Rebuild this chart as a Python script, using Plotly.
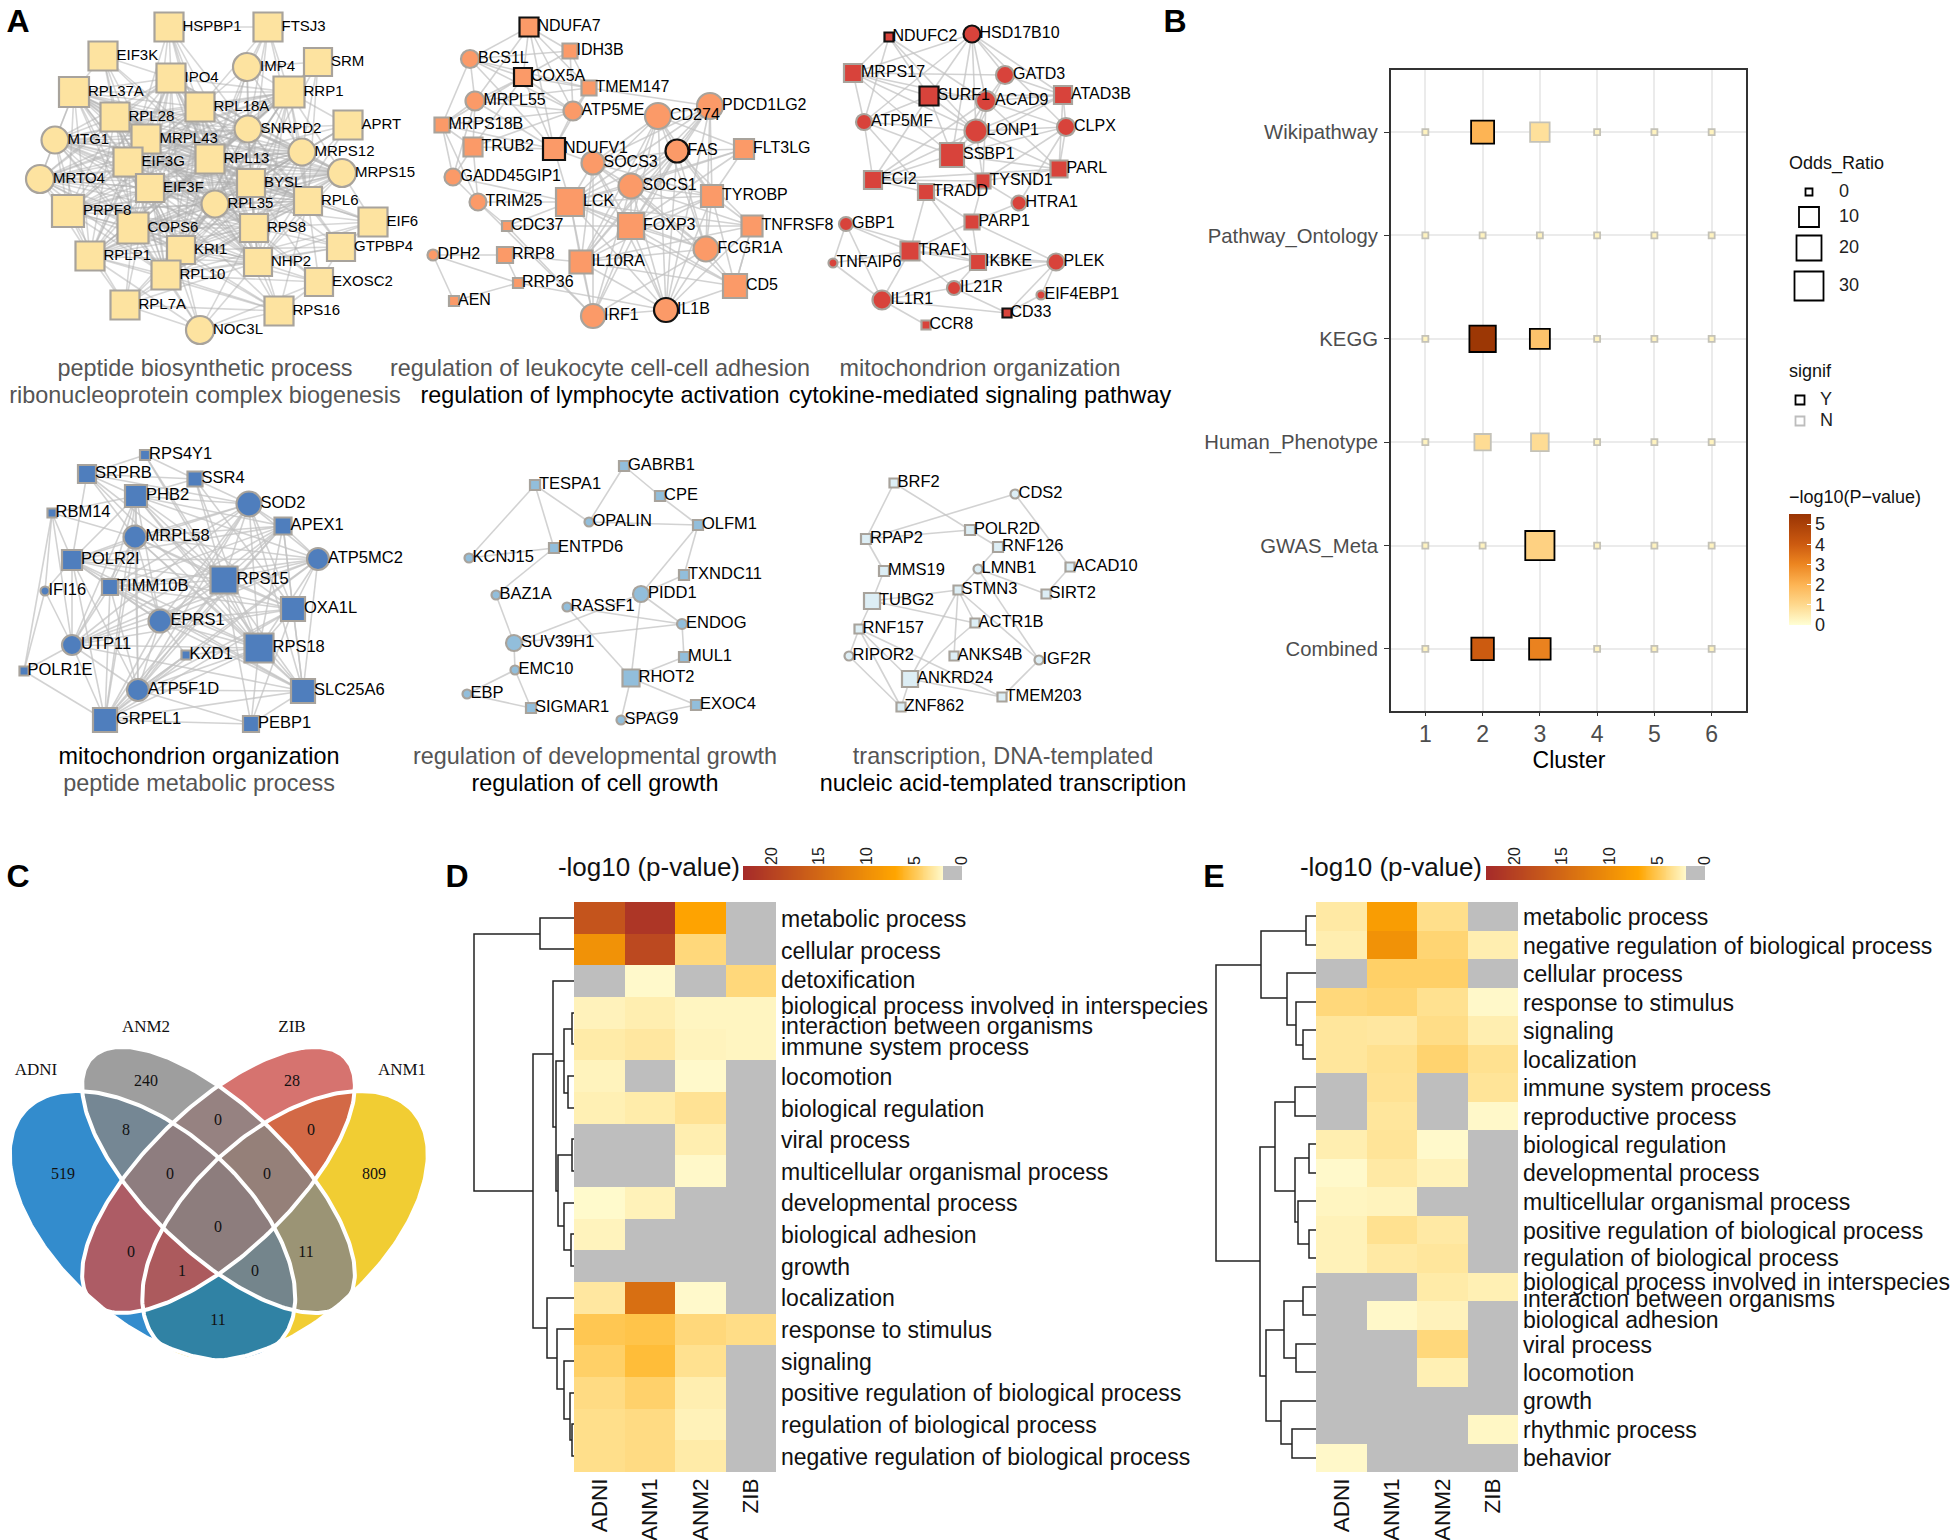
from itertools import combinations
import numpy as np
import plotly.graph_objects as go

W, H = 1951, 1540
SANS = 'Liberation Sans'
SERIF = 'Liberation Serif'

# ---- panel A networks (node layout, in picture pixels)
N1_NAMES = ['HSPBP1', 'FTSJ3', 'EIF3K', 'IMP4', 'SRM', 'IPO4', 'RPL37A', 'RRP1', 'RPL18A', 'RPL28', 'APRT', 'SNRPD2',
            'MTG1', 'MRPL43', 'MRPS12', 'EIF3G', 'RPL13', 'MRPS15', 'MRTO4', 'BYSL', 'EIF3F', 'RPL35', 'RPL6', 'PRPF8',
            'EIF6', 'COPS6', 'RPS8', 'GTPBP4', 'KRI1', 'RPLP1', 'NHP2', 'RPL10', 'EXOSC2', 'RPL7A', 'RPS16', 'NOC3L']
N1_X = [169, 268, 103, 247, 318, 171, 74, 289, 200, 115, 348, 248, 55, 146, 302, 128, 210, 342, 40, 251, 150, 215, 308,
        68, 373, 133, 254, 341, 181, 90, 258, 166, 319, 125, 279, 200]
N1_Y = [27, 27, 56, 67, 62, 78, 92, 92, 107, 117, 125, 129, 140, 139, 152, 162, 159, 173, 179, 183, 188, 204, 201, 211,
        222, 228, 228, 247, 250, 256, 262, 275, 282, 305, 311, 330]
N1_SIZE = [31, 31, 31, 30, 30, 31, 32, 33, 31, 31, 31, 29, 29, 31, 29, 31, 31, 30, 30, 30, 30, 29, 30, 34, 31, 33, 30,
           30, 30, 31, 30, 31, 30, 31, 31, 30]
N1_CIRCLES = ['IMP4', 'SNRPD2', 'MTG1', 'MRPS12', 'MRPS15', 'MRTO4', 'RPL35', 'NOC3L']
N1_BLACK = []
N1_CORE = ['RPL28', 'MRPL43', 'EIF3G', 'RPL13', 'BYSL', 'EIF3F', 'RPL35', 'RPL18A', 'SNRPD2', 'COPS6', 'RPS8', 'KRI1',
           'NHP2', 'RPL10', 'RPL6', 'MTG1', 'MRTO4', 'PRPF8', 'MRPS12', 'IPO4', 'RRP1', 'RPL37A', 'RPLP1', 'MRPS15']
N1_ADJ = ['HSPBP1: EIF3G RPL13 RPL18A IPO4 BYSL RPL35 SNRPD2 EIF3F',
          'FTSJ3: IMP4 RPL18A RRP1 SNRPD2 RPL13 BYSL HSPBP1 RPL6',
          'EIF3K: RPL28 MRPL43 EIF3G RPL13 RPL37A IPO4 EIF3F BYSL',
          'IMP4: RRP1 SNRPD2 RPL13 BYSL RPL18A RPL35 MRPS12 SRM',
          'SRM: RRP1 SNRPD2 MRPS12 BYSL RPL13 RPL6',
          'APRT: RPL13 BYSL RPL35 RPS8 SNRPD2 MRPS12 NHP2 RRP1',
          'EIF6: RPL6 RPS8 NHP2 BYSL RPL35 RPL13 GTPBP4 MRPS15 RPL10',
          'GTPBP4: RPL6 RPS8 NHP2 BYSL RPL35 KRI1 RPL10 EXOSC2 SNRPD2',
          'EXOSC2: NHP2 RPS8 RPL35 KRI1 RPL10 BYSL RPL6 RPS16 NOC3L',
          'RPL7A: RPLP1 COPS6 KRI1 RPL10 RPS8 EIF3F RPL35 NHP2 NOC3L PRPF8 RPS16',
          'RPS16: NHP2 RPL10 KRI1 RPS8 COPS6 RPL35 RPL6 EIF3F NOC3L RPLP1',
          'NOC3L: RPL10 KRI1 NHP2 RPS8 RPLP1 COPS6 EIF3F']

N2_NAMES = ['NDUFA7', 'IDH3B', 'BCS1L', 'COX5A', 'TMEM147', 'MRPL55', 'ATP5ME', 'PDCD1LG2', 'CD274', 'MRPS18B', 'FLT3LG',
            'TRUB2', 'NDUFV1', 'FAS', 'SOCS3', 'GADD45GIP1', 'SOCS1', 'TYROBP', 'TRIM25', 'LCK', 'CDC37', 'FOXP3',
            'TNFRSF8', 'FCGR1A', 'DPH2', 'RRP8', 'IL10RA', 'CD5', 'RRP36', 'AEN', 'IL1B', 'IRF1']
N2_X = [529, 570, 470, 523, 589, 475, 573, 710, 658, 442, 744, 473, 554, 677, 593, 453, 631, 712, 478, 570, 507, 631,
        752, 706, 433, 505, 581, 735, 518, 454, 666, 593]
N2_Y = [27, 51, 59, 77, 88, 101, 111, 106, 116, 125, 149, 147, 149, 151, 163, 177, 186, 196, 202, 202, 226, 226, 226,
        249, 255, 255, 262, 286, 283, 301, 310, 316]
N2_SIZE = [21, 17, 20, 20, 17, 21, 21, 28, 28, 17, 22, 21, 24, 25, 25, 19, 27, 24, 19, 30, 12, 28, 23, 27, 13, 18, 25,
           26, 12, 12, 26, 26]
N2_CIRCLES = ['BCS1L', 'MRPL55', 'ATP5ME', 'PDCD1LG2', 'CD274', 'FAS', 'SOCS3', 'GADD45GIP1', 'SOCS1', 'TRIM25',
              'FCGR1A', 'DPH2', 'IL1B', 'IRF1']
N2_BLACK = ['NDUFA7', 'COX5A', 'NDUFV1', 'FAS', 'IL1B']
N2_CORE = ['CD274', 'PDCD1LG2', 'FAS', 'SOCS3', 'SOCS1', 'TYROBP', 'LCK', 'FOXP3', 'IL10RA', 'FCGR1A', 'IL1B']
N2_ADJ = ['NDUFA7: BCS1L COX5A MRPL55 ATP5ME IDH3B TMEM147 NDUFV1',
          'IDH3B: COX5A BCS1L ATP5ME TMEM147',
          'BCS1L: MRPL55 COX5A ATP5ME MRPS18B NDUFV1 TMEM147',
          'COX5A: MRPL55 ATP5ME TMEM147 NDUFV1 TRUB2 MRPS18B',
          'TMEM147: ATP5ME MRPL55 PDCD1LG2 NDUFV1',
          'MRPL55: ATP5ME MRPS18B TRUB2 NDUFV1 GADD45GIP1',
          'ATP5ME: NDUFV1 TRUB2 MRPS18B',
          'MRPS18B: TRUB2 GADD45GIP1 TRIM25 NDUFV1',
          'TRUB2: NDUFV1 GADD45GIP1 TRIM25',
          'GADD45GIP1: TRIM25 LCK',
          'TRIM25: CDC37 IRF1 LCK',
          'NDUFV1: SOCS3 LCK',
          'CDC37: FOXP3 LCK IRF1',
          'DPH2: RRP8 RRP36 AEN',
          'RRP8: RRP36 IL10RA',
          'RRP36: AEN IL1B',
          'FLT3LG: CD274 SOCS1 LCK FOXP3 FAS TYROBP',
          'TNFRSF8: LCK FOXP3 FAS CD5 IL1B TYROBP SOCS1 IL10RA',
          'CD5: LCK FOXP3 IL10RA TNFRSF8 FCGR1A IL1B TYROBP SOCS1',
          'IRF1: LCK IL10RA FOXP3 IL1B SOCS1 SOCS3 FCGR1A FAS']

N3_NAMES = ['NDUFC2', 'HSD17B10', 'MRPS17', 'GATD3', 'SURF1', 'ACAD9', 'ATAD3B', 'ATP5MF', 'LONP1', 'CLPX', 'SSBP1',
            'PARL', 'ECI2', 'TYSND1', 'TRADD', 'HTRA1', 'PARP1', 'GBP1', 'TRAF1', 'TNFAIP6', 'IKBKE', 'PLEK', 'IL21R',
            'EIF4EBP1', 'IL1R1', 'CD33', 'CCR8']
N3_X = [889, 972, 853, 1005, 929, 986, 1063, 864, 976, 1066, 952, 1059, 873, 983, 926, 1019, 972, 846, 910, 833, 978,
        1056, 954, 1041, 882, 1007, 926]
N3_Y = [37, 34, 73, 75, 96, 101, 95, 122, 131, 127, 155, 169, 180, 181, 192, 203, 222, 224, 251, 263, 262, 262, 288,
        295, 300, 313, 325]
N3_SIZE = [11, 19, 20, 20, 21, 22, 20, 18, 25, 20, 26, 19, 20, 17, 18, 17, 17, 16, 21, 11, 18, 19, 16, 11, 21, 11, 11]
N3_CIRCLES = ['HSD17B10', 'GATD3', 'ACAD9', 'ATP5MF', 'LONP1', 'CLPX', 'HTRA1', 'GBP1', 'TNFAIP6', 'PLEK', 'IL21R',
              'EIF4EBP1', 'IL1R1']
N3_BLACK = ['NDUFC2', 'HSD17B10', 'SURF1', 'CD33']
N3_CORE = []
N3_ADJ = ['NDUFC2: ATP5MF MRPS17 SURF1 ACAD9 LONP1',
          'HSD17B10: GATD3 MRPS17 SURF1 ACAD9 LONP1 SSBP1 ATAD3B ATP5MF CLPX',
          'MRPS17: GATD3 SURF1 ACAD9 ATP5MF LONP1 SSBP1',
          'GATD3: ACAD9 ATAD3B LONP1',
          'SURF1: ACAD9 LONP1 ATP5MF SSBP1 ECI2 ATAD3B',
          'ACAD9: ATAD3B LONP1 CLPX SSBP1 PARL TYSND1 ECI2',
          'ATAD3B: CLPX LONP1 PARL SSBP1',
          'ATP5MF: LONP1 SSBP1 ECI2 TRADD',
          'LONP1: CLPX SSBP1 PARL TYSND1 ECI2',
          'CLPX: SSBP1 PARL TYSND1 HTRA1',
          'SSBP1: PARL ECI2 TYSND1',
          'PARL: TYSND1 ECI2',
          'ECI2: TYSND1 TRADD',
          'TYSND1: TRADD HTRA1 PARP1',
          'TRADD: TRAF1 PARP1 IKBKE',
          'HTRA1: PARP1',
          'PARP1: IKBKE PLEK TRAF1',
          'GBP1: TRAF1 TNFAIP6 IKBKE IL1R1',
          'TRAF1: IKBKE TNFAIP6 PLEK IL1R1 IL21R',
          'TNFAIP6: IL1R1',
          'IKBKE: PLEK IL21R IL1R1',
          'PLEK: EIF4EBP1 CD33 IL21R',
          'IL21R: IL1R1 CD33',
          'IL1R1: CD33 CCR8',
          'EIF4EBP1: CD33']

N4_NAMES = ['RPS4Y1', 'SRPRB', 'SSR4', 'PHB2', 'SOD2', 'RBM14', 'APEX1', 'MRPL58', 'ATP5MC2', 'POLR2I', 'IFI16',
            'TIMM10B', 'RPS15', 'OXA1L', 'EPRS1', 'UTP11', 'RPS18', 'KXD1', 'POLR1E', 'ATP5F1D', 'SLC25A6', 'GRPEL1',
            'PEBP1']
N4_X = [145, 87, 195, 136, 249, 52, 283, 135, 318, 72, 45, 110, 224, 293, 160, 72, 259, 186, 24, 138, 303, 105, 251]
N4_Y = [455, 474, 479, 496, 504, 513, 526, 537, 559, 560, 591, 587, 580, 609, 621, 645, 648, 655, 671, 690, 691, 720,
        724]
N4_SIZE = [12, 20, 17, 24, 27, 11, 19, 25, 24, 22, 11, 18, 29, 26, 25, 22, 31, 11, 11, 24, 26, 26, 18]
N4_CIRCLES = ['SOD2', 'MRPL58', 'ATP5MC2', 'IFI16', 'EPRS1', 'UTP11', 'ATP5F1D']
N4_BLACK = []
N4_CORE = ['RPS15', 'RPS18', 'OXA1L', 'ATP5MC2', 'SOD2', 'MRPL58', 'EPRS1', 'ATP5F1D', 'GRPEL1', 'SLC25A6', 'PHB2',
           'TIMM10B', 'UTP11', 'APEX1', 'POLR2I']
N4_ADJ = ['RPS4Y1: SRPRB SSR4 RPS15 RPS18',
          'SRPRB: SSR4 PHB2 POLR2I RPS15 RPS18 MRPL58 SOD2',
          'SSR4: PHB2 SOD2 RPS18 RPS15 OXA1L',
          'RBM14: POLR2I UTP11 MRPL58 IFI16 POLR1E PHB2',
          'IFI16: POLR2I UTP11 POLR1E',
          'POLR1E: UTP11 GRPEL1',
          'KXD1: RPS18 ATP5F1D GRPEL1 EPRS1',
          'PEBP1: GRPEL1 RPS18 RPS15 SLC25A6 OXA1L ATP5F1D']

N5_NAMES = ['GABRB1', 'TESPA1', 'CPE', 'OPALIN', 'OLFM1', 'ENTPD6', 'KCNJ15', 'TXNDC11', 'BAZ1A', 'PIDD1', 'RASSF1',
            'ENDOG', 'SUV39H1', 'EMC10', 'MUL1', 'RHOT2', 'EBP', 'SIGMAR1', 'EXOC4', 'SPAG9']
N5_X = [624, 535, 660, 589, 698, 554, 469, 684, 496, 641, 567, 682, 514, 515, 684, 631, 467, 531, 696, 621]
N5_Y = [466, 485, 496, 522, 525, 548, 558, 575, 595, 594, 607, 624, 643, 670, 657, 678, 694, 708, 705, 720]
N5_SIZE = [12, 12, 12, 11, 12, 12, 11, 12, 11, 18, 11, 12, 18, 11, 12, 19, 11, 12, 12, 11]
N5_CIRCLES = ['OPALIN', 'KCNJ15', 'BAZ1A', 'PIDD1', 'RASSF1', 'ENDOG', 'SUV39H1', 'EMC10', 'EBP', 'SPAG9']
N5_BLACK = []
N5_CORE = []
N5_ADJ = ['TESPA1: KCNJ15 ENTPD6 OPALIN', 'GABRB1: OPALIN CPE', 'CPE: OLFM1', 'OPALIN: OLFM1',
          'OLFM1: TXNDC11 PIDD1', 'ENTPD6: KCNJ15 BAZ1A', 'TXNDC11: PIDD1', 'BAZ1A: SUV39H1',
          'PIDD1: ENDOG RHOT2', 'SUV39H1: PIDD1 ENDOG EMC10', 'RASSF1: ENDOG RHOT2', 'ENDOG: MUL1', 'MUL1: RHOT2',
          'RHOT2: EXOC4 SPAG9', 'EXOC4: SPAG9', 'EMC10: EBP SIGMAR1', 'EBP: SIGMAR1']

N6_NAMES = ['BRF2', 'CDS2', 'POLR2D', 'RPAP2', 'RNF126', 'ACAD10', 'MMS19', 'LMNB1', 'STMN3', 'SIRT2', 'TUBG2', 'ACTR1B',
            'RNF157', 'RIPOR2', 'ANKS4B', 'IGF2R', 'ANKRD24', 'TMEM203', 'ZNF862']
N6_X = [894, 1015, 970, 866, 998, 1070, 884, 978, 958, 1046, 872, 975, 859, 849, 954, 1039, 910, 1002, 901]
N6_Y = [483, 494, 530, 539, 547, 567, 571, 569, 590, 594, 601, 623, 629, 656, 656, 660, 679, 697, 707]
N6_SIZE = [11, 11, 12, 12, 12, 11, 12, 11, 11, 11, 18, 11, 11, 11, 11, 11, 18, 11, 11]
N6_CIRCLES = ['CDS2', 'LMNB1', 'RIPOR2', 'IGF2R']
N6_BLACK = []
N6_CORE = []
N6_ADJ = ['BRF2: RPAP2 POLR2D', 'CDS2: RPAP2 ACAD10', 'RPAP2: POLR2D MMS19', 'POLR2D: RNF126', 'RNF126: LMNB1',
          'ACAD10: SIRT2', 'LMNB1: STMN3 SIRT2 IGF2R', 'MMS19: TUBG2', 'TUBG2: STMN3 ACTR1B RNF157',
          'STMN3: ACTR1B ANKRD24 ANKS4B IGF2R', 'ACTR1B: ANKRD24', 'RNF157: RIPOR2 ZNF862 TMEM203', 'RIPOR2: ZNF862',
          'ANKRD24: TMEM203 ZNF862 RNF157', 'IGF2R: TMEM203']

CAPTIONS = ['peptide biosynthetic process', 'ribonucleoprotein complex biogenesis',
            'regulation of leukocyte cell-cell adhesion', 'regulation of lymphocyte activation',
            'mitochondrion organization', 'cytokine-mediated signaling pathway',
            'mitochondrion organization', 'peptide metabolic process',
            'regulation of developmental growth', 'regulation of cell growth',
            'transcription, DNA-templated', 'nucleic acid-templated transcription']
CAPTION_X = [205, 205, 600, 600, 980, 980, 199, 199, 595, 595, 1003, 1003]
CAPTION_Y = [370, 397, 370, 397, 370, 397, 758, 785, 758, 785, 758, 785]
CAPTION_COLOR = ['#555', '#555', '#555', '#000', '#555', '#000', '#000', '#555', '#555', '#000', '#555', '#000']

# ---- panel B
B_PATHWAYS = ['Wikipathway', 'Pathway_Ontology', 'KEGG', 'Human_Phenotype', 'GWAS_Meta', 'Combined']
B_CLUSTERS = [1, 2, 3, 4, 5, 6]
B_ODDS = [[0, 18, 11, 0, 0, 0],
          [0, 0, 0, 0, 0, 0],
          [0, 26, 12, 0, 0, 0],
          [0, 8, 9, 0, 0, 0],
          [0, 0, 33, 0, 0, 0],
          [0, 17, 15, 0, 0, 0]]
B_LOGP = [[0.3, 2.0, 0.8, 0.3, 0.3, 0.3],
          [0.3, 0.3, 0.3, 0.3, 0.3, 0.3],
          [0.3, 5.4, 1.6, 0.3, 0.3, 0.3],
          [0.3, 0.9, 0.9, 0.3, 0.3, 0.3],
          [0.3, 0.3, 1.2, 0.3, 0.3, 0.3],
          [0.3, 4.0, 3.1, 0.3, 0.3, 0.3]]
B_SIGNIF = [['N', 'Y', 'N', 'N', 'N', 'N'],
            ['N', 'N', 'N', 'N', 'N', 'N'],
            ['N', 'Y', 'Y', 'N', 'N', 'N'],
            ['N', 'N', 'N', 'N', 'N', 'N'],
            ['N', 'N', 'Y', 'N', 'N', 'N'],
            ['N', 'Y', 'Y', 'N', 'N', 'N']]
ODDS_LEGEND = [0, 10, 20, 30]
B_COLORSCALE = [[0, '#FFFFD4'], [0.18, '#FED98E'], [0.36, '#FDB555'], [0.55, '#EC8520'], [0.73, '#CC5A10'],
                [1, '#993404']]

# ---- panel C
VENN_SETS = ['ANM1', 'ADNI', 'ZIB', 'ANM2']
VENN_CX = [285, 152.5, 218.5, 218.5]
VENN_CY = [1226, 1226, 1180, 1180]
VENN_A = [172, 172, 176, 176]
VENN_B = [95, 95, 73, 73]
VENN_ANGLE = [-42, 42, -44, 44]
VENN_FILL = ['rgba(237,192,0,0.8)', 'rgba(0,111,193,0.8)', 'rgba(204,80,75,0.8)', 'rgba(134,134,134,0.8)']
VENN_COUNTS = ['519', '240', '28', '809', '8', '0', '0', '0', '0', '0', '0', '11', '1', '0', '11']
VENN_COUNT_X = [63, 146, 292, 374, 126, 218, 311, 170, 267, 131, 218, 306, 182, 255, 218]
VENN_COUNT_Y = [1175, 1082, 1082, 1175, 1131, 1121, 1131, 1175, 1175, 1253, 1228, 1253, 1272, 1272, 1321]
VENN_LABELS = ['ANM2', 'ZIB', 'ADNI', 'ANM1']
VENN_LABEL_X = [146, 292, 36, 402]
VENN_LABEL_Y = [1028, 1028, 1071, 1071]

# ---- panels D and E
COHORTS = ['ADNI', 'ANM1', 'ANM2', 'ZIB']
D_VALUES = [[17.5, 21.5, 7.2, 0], [9.5, 19, 4, 0], [0, 2.05, 0, 4], [2.45, 2.7, 2.3, 2.3], [2.9, 3.1, 2.4, 2.3],
            [2.4, 0, 2.05, 0], [2.6, 2.85, 3.4, 0], [0, 0, 2.7, 0], [0, 0, 2.1, 0], [2.02, 2.5, 0, 0], [2.4, 0, 0, 0],
            [0, 0, 0, 0], [3.1, 14, 2.05, 0], [5, 5.2, 4, 3.7], [4.5, 5.6, 3.5, 0], [3.8, 4.4, 2.7, 0],
            [3.6, 3.8, 2.5, 0], [3.6, 3.8, 2.9, 0]]
D_LABELS = ['metabolic process', 'cellular process', 'detoxification', 'biological process involved in interspecies',
            'interaction between organisms', 'immune system process', 'locomotion', 'biological regulation',
            'viral process', 'multicellular organismal process', 'developmental process', 'biological adhesion',
            'growth', 'localization', 'response to stimulus', 'signaling', 'positive regulation of biological process',
            'regulation of biological process', 'negative regulation of biological process']
D_LABEL_ROWS = [0.03, 1.03, 1.97, 2.79, 3.40, 4.09, 5.03, 6.02, 7.02, 8.02, 9.01, 10.01, 11.01, 12.01, 13.01, 14.02,
                15.01, 16, 17.01]
E_VALUES = [[3, 8, 3.6, 0], [2.7, 9.5, 4.2, 2.7], [0, 4.5, 4.5, 0], [4, 4.2, 3.5, 2.1], [3.2, 3.1, 3.7, 2.7],
            [3.2, 3.5, 4.3, 3.5], [0, 3.4, 0, 3.3], [0, 3.2, 0, 2.1], [2.7, 3.3, 2.05, 0], [2.05, 3, 2.5, 0],
            [2.3, 2.4, 0, 0], [2.5, 3.5, 3, 0], [2.5, 3, 3.2, 0], [0, 0, 2.9, 2.6], [0, 2.1, 2.45, 0], [0, 0, 4, 0],
            [0, 0, 2.6, 0], [0, 0, 0, 0], [0, 0, 0, 2.2], [2.1, 0, 0, 0]]
E_LABELS = ['metabolic process', 'negative regulation of biological process', 'cellular process',
            'response to stimulus', 'signaling', 'localization', 'immune system process', 'reproductive process',
            'biological regulation', 'developmental process', 'multicellular organismal process',
            'positive regulation of biological process', 'regulation of biological process',
            'biological process involved in interspecies', 'interaction between organisms', 'biological adhesion',
            'viral process', 'locomotion', 'growth', 'rhythmic process', 'behavior']
E_LABEL_ROWS = [0.02, 1.03, 2.03, 3.03, 4.03, 5.03, 6.03, 7.03, 8.02, 9.02, 10.02, 11.03, 11.98, 12.82, 13.43, 14.16,
                15.03, 16.02, 17.02, 18.02, 19.01]
HEAT_TICKS = [20, 15, 10, 5, 0]
HEAT_BAR_VALUES = np.arange(23, -0.05, -0.1).tolist()
HEAT_COLORSCALE = [[0, '#BEBEBE'], [2 / 23, '#BEBEBE'], [2.001 / 23, '#FFFACD'], [7 / 23, '#FFA500'], [1, '#A52A2A']]

# dendrogram merges: x of the merge, then (y, x) of the upper and the lower child
D_TREE = [(474, 934, 540, 1191, 533), (540, 918, 574, 949, 574), (533, 1054, 553, 1328, 547),
          (553, 981, 574, 1127, 556), (556, 1061, 564, 1191, 558), (564, 1029, 572, 1093, 568),
          (572, 1013, 574, 1044, 574), (568, 1076, 574, 1108, 574), (558, 1155, 572, 1226, 564),
          (572, 1139, 574, 1171, 574), (564, 1203, 574, 1250, 571), (571, 1234, 574, 1266, 574),
          (547, 1298, 574, 1358, 557), (557, 1329, 574, 1389, 564), (564, 1361, 574, 1419, 570),
          (570, 1393, 574, 1440, 572), (572, 1424, 574, 1456, 574)]
E_TREE = [(1216, 965, 1261, 1261, 1260), (1261, 931, 1306, 998, 1287), (1306, 916, 1316, 945, 1316),
          (1287, 973, 1316, 1025, 1296), (1296, 1002, 1316, 1045, 1303), (1303, 1030, 1316, 1059, 1316),
          (1260, 1147, 1275, 1376, 1266), (1275, 1102, 1295, 1191, 1295), (1295, 1087, 1316, 1116, 1316),
          (1295, 1158, 1309, 1222, 1298), (1309, 1144, 1316, 1173, 1316), (1298, 1201, 1316, 1244, 1309),
          (1309, 1230, 1316, 1258, 1316), (1266, 1330, 1284, 1421, 1281), (1284, 1301, 1303, 1358, 1296),
          (1303, 1287, 1316, 1315, 1316), (1296, 1344, 1316, 1372, 1316), (1281, 1401, 1316, 1444, 1292),
          (1292, 1429, 1316, 1458, 1316)]

PANEL_LETTERS = ['A', 'B', 'C', 'D', 'E']
PANEL_X = [18, 1175, 18, 457, 1214]
PANEL_Y = [24, 24, 879, 879, 879]


def box(x0, x1, y0, y1):
    return dict(domain=[x0 / W, x1 / W]), dict(domain=[1 - y1 / H, 1 - y0 / H])


def add_text(fig, x, y, text, size, color='#000', family=SANS, position='middle center'):
    fig.add_trace(go.Scatter(x=x, y=y, text=text, mode='text', textposition=position, hoverinfo='skip',
                             textfont=dict(size=size, color=color, family=family)))


def add_network(fig, names, x, y, sizes, circles, black, core, adjacency, fill, font_size, edge_color):
    pos = dict(zip(names, zip(x, y)))
    pairs = list(combinations(core, 2))
    for line in adjacency:
        node, others = line.split(':')
        pairs += [(node, other) for other in others.split()]
    edge_x, edge_y = [], []
    for a, b in pairs:
        edge_x += [pos[a][0], pos[b][0], None]
        edge_y += [pos[a][1], pos[b][1], None]
    fig.add_trace(go.Scatter(x=edge_x, y=edge_y, mode='lines', line=dict(color=edge_color, width=1.6),
                             hoverinfo='skip'))
    fig.add_trace(go.Scatter(
        x=x, y=y, mode='markers', hoverinfo='skip',
        marker=dict(size=[s - 2 for s in sizes], color=fill, opacity=1,
                    symbol=['circle' if n in circles else 'square' for n in names],
                    line=dict(width=2.2, color=['#111' if n in black else '#A8A39C' for n in names]))))
    # labels start right at the node edge, closer than a marker's own text gap
    add_text(fig, [px_ + s / 2 - 2 for px_, s in zip(x, sizes)], y, names, font_size, position='middle right')


def add_tree(fig, tree):
    xs, ys = [], []
    for merge_x, y_top, x_top, y_bottom, x_bottom in tree:
        xs += [x_top, merge_x, merge_x, x_bottom, None]
        ys += [y_top, y_top, y_bottom, y_bottom, None]
    fig.add_trace(go.Scatter(x=xs, y=ys, mode='lines', line=dict(color='#222', width=1.5), hoverinfo='skip'))


def add_heatmap(fig, axis, values, labels, label_rows, left, right):
    xa, ya = box(left, right, 902, 1472)
    fig.add_trace(go.Heatmap(z=values, x=list(range(4)), y=list(range(len(values))), zmin=0, zmax=23,
                             colorscale=HEAT_COLORSCALE, showscale=False, xaxis=f'x{axis}', yaxis=f'y{axis}'))
    fig.layout[f'xaxis{axis}'] = dict(**xa, anchor=f'y{axis}', range=[-0.5, 3.5], tickvals=list(range(4)),
                                      ticktext=COHORTS, tickangle=-90, ticks='', showgrid=False, zeroline=False,
                                      tickfont=dict(size=22.5, color='#111', family=SANS), ticklabelstandoff=1)
    fig.layout[f'yaxis{axis}'] = dict(**ya, anchor=f'x{axis}', side='right', range=[len(values) - 0.5, -0.5],
                                      tickvals=label_rows, ticktext=labels, ticks='', showgrid=False, zeroline=False,
                                      tickfont=dict(size=23, color='#111', family=SANS), ticklabelstandoff=4)


def add_heat_bar(fig, axis, left, right):
    xa, ya = box(left, right, 866, 880)
    fig.add_trace(go.Heatmap(z=[HEAT_BAR_VALUES], x=HEAT_BAR_VALUES, y=[0], zmin=0, zmax=23,
                             colorscale=HEAT_COLORSCALE, showscale=False, xaxis=f'x{axis}', yaxis=f'y{axis}'))
    fig.layout[f'xaxis{axis}'] = dict(**xa, anchor=f'y{axis}', side='top', range=[23, 0], tickvals=HEAT_TICKS,
                                      tickangle=-90, ticks='', showgrid=False, zeroline=False,
                                      tickfont=dict(size=16, color='#222', family=SANS))
    fig.layout[f'yaxis{axis}'] = dict(**ya, anchor=f'x{axis}', visible=False, range=[-0.5, 0.5])


fig = go.Figure()

# panel A
EDGE_DENSE = 'rgba(175,175,175,0.5)'
EDGE_LIGHT = 'rgba(195,195,195,0.75)'
add_network(fig, N1_NAMES, N1_X, N1_Y, N1_SIZE, N1_CIRCLES, N1_BLACK, N1_CORE, N1_ADJ, '#FDE3A0', 15, EDGE_DENSE)
add_network(fig, N2_NAMES, N2_X, N2_Y, N2_SIZE, N2_CIRCLES, N2_BLACK, N2_CORE, N2_ADJ, '#FB9A68', 16, EDGE_LIGHT)
add_network(fig, N3_NAMES, N3_X, N3_Y, N3_SIZE, N3_CIRCLES, N3_BLACK, N3_CORE, N3_ADJ, '#D8433B', 16, EDGE_LIGHT)
add_network(fig, N4_NAMES, N4_X, N4_Y, N4_SIZE, N4_CIRCLES, N4_BLACK, N4_CORE, N4_ADJ, '#4F7EBD', 16.5, EDGE_LIGHT)
add_network(fig, N5_NAMES, N5_X, N5_Y, N5_SIZE, N5_CIRCLES, N5_BLACK, N5_CORE, N5_ADJ, '#92BEDB', 16.5, EDGE_LIGHT)
add_network(fig, N6_NAMES, N6_X, N6_Y, N6_SIZE, N6_CIRCLES, N6_BLACK, N6_CORE, N6_ADJ, '#DDEEF5', 16.5, EDGE_LIGHT)
add_text(fig, CAPTION_X, CAPTION_Y, CAPTIONS, 23.4, CAPTION_COLOR)

# panel B legends that live next to the axes
legend_sizes = np.interp(ODDS_LEGEND, [0, 10, 20, 30], [7, 20, 25, 29]).tolist()
ODDS_LEGEND_Y = [192, 217, 248, 286]
fig.add_trace(go.Scatter(x=[1809] * 4, y=ODDS_LEGEND_Y, mode='markers', hoverinfo='skip',
                         marker=dict(size=legend_sizes, symbol='square', color='#fff', opacity=1,
                                     line=dict(color='#000', width=1.8))))
add_text(fig, [1839] * 4, ODDS_LEGEND_Y, [str(v) for v in ODDS_LEGEND], 18, '#222', position='middle right')
fig.add_trace(go.Scatter(x=[1800, 1800], y=[400, 421], mode='markers', hoverinfo='skip',
                         marker=dict(size=9, symbol='square', color='#fff', opacity=1,
                                     line=dict(color=['#000', '#BDBDBD'], width=1.8))))
add_text(fig, [1820, 1820], [400, 421], ['Y', 'N'], 18, '#222', position='middle right')
add_text(fig, [1789, 1789, 1789], [164, 372, 498], ['Odds_Ratio', 'signif', '−log10(P−value)'], 18, '#111',
         position='middle right')
add_text(fig, [1569], [762], ['Cluster'], 23)

# panel C
t = np.linspace(0, 2 * np.pi, 240)
venn_paths = []
for cx, cy, a, b, angle in zip(VENN_CX, VENN_CY, VENN_A, VENN_B, VENN_ANGLE):
    th = np.radians(angle)
    venn_paths.append((cx + a * np.cos(t) * np.cos(th) - b * np.sin(t) * np.sin(th),
                       cy + a * np.cos(t) * np.sin(th) + b * np.sin(t) * np.cos(th)))
for (px_, py_), color in zip(venn_paths, VENN_FILL):
    fig.add_trace(go.Scatter(x=px_, y=py_, mode='none', fill='toself', fillcolor=color, hoverinfo='skip'))
for px_, py_ in venn_paths:
    fig.add_trace(go.Scatter(x=px_, y=py_, mode='lines', line=dict(color='#fff', width=4), hoverinfo='skip'))
add_text(fig, VENN_COUNT_X, VENN_COUNT_Y, VENN_COUNTS, 16, '#111', SERIF)
add_text(fig, VENN_LABEL_X, VENN_LABEL_Y, VENN_LABELS, 17, '#111', SERIF)

# panels D, E extras
add_tree(fig, D_TREE)
add_tree(fig, E_TREE)
add_text(fig, [740, 1482], [869, 869], ['-log10 (p-value)', '-log10 (p-value)'], 26, '#111', position='middle left')
add_text(fig, PANEL_X, PANEL_Y, ['<b>%s</b>' % s for s in PANEL_LETTERS], 32, '#000')

# panel B
xa, ya = box(1391, 1746, 70, 711)
b_x, b_y, b_odds, b_logp, b_sig = [], [], [], [], []
for r, row in enumerate(B_PATHWAYS):
    for c, cluster in enumerate(B_CLUSTERS):
        b_x.append(cluster)
        b_y.append(r)
        b_odds.append(B_ODDS[r][c])
        b_logp.append(B_LOGP[r][c])
        b_sig.append(B_SIGNIF[r][c])
fig.add_trace(go.Scatter(
    x=b_x, y=b_y, mode='markers', xaxis='x2', yaxis='y2',
    marker=dict(symbol='square', size=np.interp(b_odds, [0, 10, 20, 30, 40], [6, 19, 24, 28, 32]).tolist(),
                color=b_logp, cmin=0, cmax=5.5, colorscale=B_COLORSCALE, opacity=1,
                line=dict(width=1.8, color=['#000' if s == 'Y' else '#C4C2B8' for s in b_sig]),
                colorbar=dict(x=1789 / W, xanchor='left', xpad=0, y=1 - 625 / H, yanchor='bottom', ypad=0,
                              len=111, lenmode='pixels', thickness=22, thicknessmode='pixels', outlinewidth=0,
                              ticks='inside', tickcolor='#fff', ticklen=4, tickvals=[0, 1, 2, 3, 4, 5],
                              tickfont=dict(size=18, color='#222', family=SANS)))))
fig.layout.xaxis2 = dict(**xa, anchor='y2', range=[0.4, 6.6], tickvals=B_CLUSTERS, ticks='outside', ticklen=3,
                         tickcolor='#333', showline=True, mirror=True, linecolor='#333', linewidth=2, zeroline=False,
                         gridcolor='#EBEBEB', gridwidth=2, tickfont=dict(size=23, color='#4D4D4D', family=SANS),
                         ticklabelstandoff=-2)
fig.layout.yaxis2 = dict(**ya, anchor='x2', range=[5.6, -0.6], tickvals=list(range(6)), ticktext=B_PATHWAYS,
                         ticks='outside', ticklen=5, tickcolor='#333', showline=True, mirror=True, linecolor='#333',
                         linewidth=2, zeroline=False, gridcolor='#EBEBEB', gridwidth=2,
                         tickfont=dict(size=20.3, color='#4D4D4D', family=SANS), ticklabelstandoff=2)

add_heatmap(fig, 3, D_VALUES, D_LABELS, D_LABEL_ROWS, 574, 776)
add_heatmap(fig, 4, E_VALUES, E_LABELS, E_LABEL_ROWS, 1316, 1518)
add_heat_bar(fig, 5, 743, 962)
add_heat_bar(fig, 6, 1486, 1705)

fig.update_layout(
    width=W, height=H, margin=dict(l=0, r=0, t=0, b=0, autoexpand=False), paper_bgcolor='#fff',
    plot_bgcolor='rgba(0,0,0,0)', showlegend=False, hovermode=False,
    xaxis=dict(domain=[0, 1], range=[0, W], visible=False, fixedrange=True),
    yaxis=dict(domain=[0, 1], range=[H, 0], visible=False, fixedrange=True),
)
# the browser's default body margin would push the whole figure off by 8px
fig.write_html("out.html", config={'displayModeBar': False}, post_script="document.body.style.margin='0';")
